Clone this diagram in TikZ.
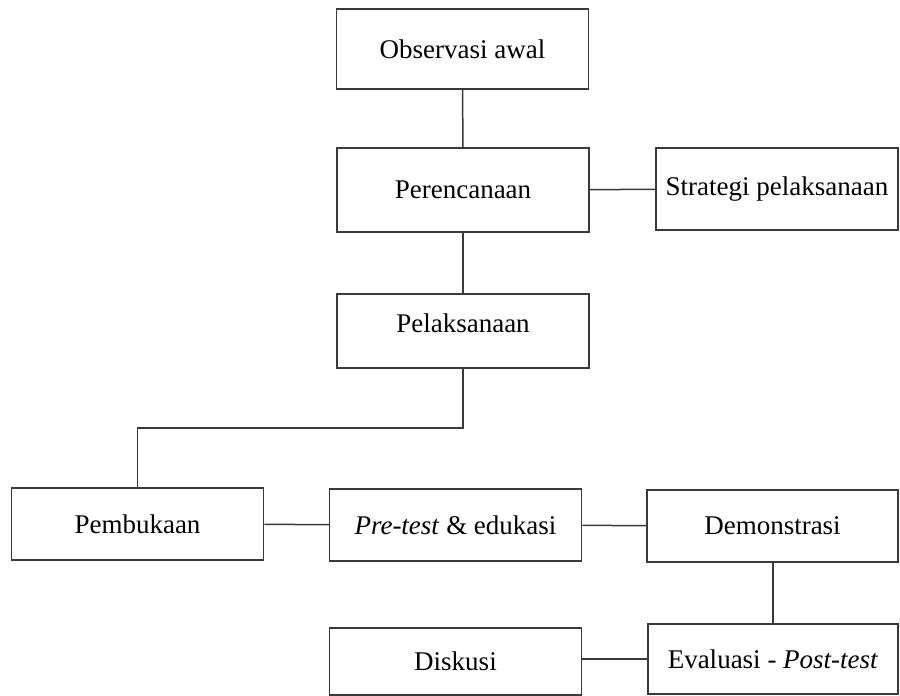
\documentclass[tikz,border=0pt]{standalone}
\usepackage{fontspec}
\setmainfont{Liberation Serif}
\usepackage{xcolor}
\usepackage{tikz}
\usetikzlibrary{positioning}
\definecolor{garis}{HTML}{3A3A3A}

\begin{document}
\begin{tikzpicture}[x=0.5pt, y=-0.5pt,
    kotak/.style={draw=garis, line width=0.75pt, minimum width=126pt,
                  minimum height=36pt, inner sep=0pt, font=\fontsize{13.5}{15}\selectfont},
    hubung/.style={draw=garis, line width=0.75pt}]
  \useasboundingbox (0,0) rectangle (900,696);

  % alur utama
  \node[kotak, minimum height=40pt] (observasi) at (462.5,49) {Observasi awal};
  \node[kotak, minimum height=42pt] (perencanaan) at (463,190) {Perencanaan};
  \node[kotak, minimum width=121pt, minimum height=41pt] (strategi) at (777,189) {Strategi pelaksanaan};
  \node[kotak, minimum height=37pt, text depth=8pt] (pelaksanaan) at (463,331) {Pelaksanaan};

  % tahap pelaksanaan
  \node[kotak] (pembukaan) at (137.5,524) {Pembukaan};
  \node[kotak] (pretest) at (455.5,525) {\textit{Pre-test} \& edukasi};
  \node[kotak, minimum width=125.5pt] (demonstrasi) at (772.5,526) {Demonstrasi};
  \node[kotak, minimum width=125pt, minimum height=35pt] (evaluasi) at (773,659) {Evaluasi - \textit{Post-test}};
  \node[kotak, minimum height=33.5pt] (diskusi) at (455.5,661.5) {Diskusi};

  \coordinate (belok) at (463,428);

  \draw[hubung] (observasi) -- (perencanaan);
  \draw[hubung] (perencanaan) -- (strategi);
  \draw[hubung] (perencanaan) -- (pelaksanaan);
  \draw[hubung] (pelaksanaan.south) -- (belok) -| (pembukaan.north);
  \draw[hubung] (pembukaan) -- (pretest);
  \draw[hubung] (pretest) -- (demonstrasi);
  \draw[hubung] (demonstrasi.south -| evaluasi.north) -- (evaluasi.north);
  \draw[hubung] (evaluasi.west) -- (evaluasi.west -| diskusi.east);
\end{tikzpicture}
\end{document}
